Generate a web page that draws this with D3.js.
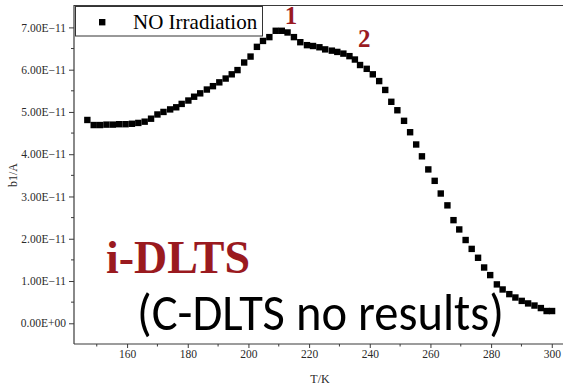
<!DOCTYPE html>
<html>
<head>
<meta charset="utf-8">
<script src="https://cdn.jsdelivr.net/npm/d3@7"></script>
<style>
  html, body { margin: 0; padding: 0; background: #fff; }
  svg { display: block; }
</style>
</head>
<body>
<svg id="chart" width="563" height="386"></svg>
<script>
// Temperature (K) of each measurement
const temperature = [
  146.9, 149.0, 151.1, 153.2, 155.3, 157.4, 159.5, 161.6, 163.7, 165.8,
  167.9, 170.0, 172.0, 174.2, 176.2, 178.0, 180.2, 182.1, 184.1, 186.3,
  188.3, 190.4, 192.5, 194.5, 196.4, 198.6, 200.7, 202.8, 204.8, 206.9,
  209.0, 211.0, 212.9, 215.0, 217.1, 219.3, 221.3, 223.4, 225.3, 227.5,
  229.3, 231.3, 233.3, 235.1, 236.8, 239.0, 241.0, 243.1, 245.1, 247.1,
  249.1, 251.3, 253.3, 255.3, 257.2, 259.3, 261.4, 263.4, 265.6, 267.6,
  269.5, 271.6, 273.6, 275.7, 277.7, 279.7, 281.9, 283.8, 286.0, 288.0,
  290.1, 292.2, 294.3, 296.4, 298.3, 300.1
];
// b1 amplitude (units of 1e-11 A), no irradiation
const b1 = [
  4.81, 4.69, 4.69, 4.70, 4.70, 4.71, 4.71, 4.72, 4.74, 4.77,
  4.84, 4.94, 5.00, 5.06, 5.11, 5.19, 5.27, 5.36, 5.44, 5.53,
  5.61, 5.70, 5.79, 5.89, 5.99, 6.17, 6.31, 6.54, 6.68, 6.77,
  6.92, 6.92, 6.88, 6.77, 6.65, 6.58, 6.56, 6.53, 6.48, 6.45,
  6.42, 6.38, 6.32, 6.24, 6.11, 6.02, 5.89, 5.73, 5.52, 5.24,
  5.04, 4.79, 4.52, 4.23, 3.95, 3.64, 3.37, 3.07, 2.79, 2.44,
  2.22, 1.97, 1.76, 1.55, 1.32, 1.14, 0.92, 0.80, 0.69, 0.61,
  0.53, 0.47, 0.42, 0.36, 0.29, 0.29
];
const points = temperature.map((t, i) => ({ t, v: b1[i] * 1e-11 }));

const yTicks = [0, 1e-11, 2e-11, 3e-11, 4e-11, 5e-11, 6e-11, 7e-11];
const yTickLabels = ["0.00E+00", "1.00E\u221211", "2.00E\u221211", "3.00E\u221211",
                     "4.00E\u221211", "5.00E\u221211", "6.00E\u221211", "7.00E\u221211"];
const yMinorTicks = [0.5e-11, 1.5e-11, 2.5e-11, 3.5e-11, 4.5e-11, 5.5e-11, 6.5e-11];
const xTicks = [160, 180, 200, 220, 240, 260, 280, 300];
const xMinorTicks = [150, 170, 190, 210, 230, 250, 270, 290];

const seriesName = "NO Irradiation";
const xTitle = "T/K";
const yTitle = "b1/A";
const peakLabels = [{ text: "1", t: 214.0, v: 7.07e-11 }, { text: "2", t: 238.2, v: 6.54e-11 }];

const svg = d3.select("#chart");
const plotLeft = 74, plotRight = 563, plotTop = 5, plotBottom = 344;

const x = d3.scaleLinear().domain([142.5, 303.7]).range([plotLeft, plotRight]);
const y = d3.scaleLinear().domain([-0.49e-11, 7.53e-11]).range([plotBottom, plotTop]);

const axisColor = "#3a3a3a";
const serif = "'Liberation Serif', 'Times New Roman', serif";

// frame: top border
svg.append("line")
  .attr("x1", plotLeft).attr("x2", plotRight).attr("y1", plotTop + 0.5).attr("y2", plotTop + 0.5)
  .attr("stroke", axisColor).attr("stroke-width", 1.2);

// y axis
const yAxis = svg.append("g").attr("transform", `translate(${plotLeft},0)`)
  .call(d3.axisLeft(y).tickValues(yTicks).tickSize(5).tickSizeOuter(0)
    .tickFormat((d, i) => yTickLabels[i]).tickPadding(3));
yAxis.append("g").selectAll("line").data(yMinorTicks).join("line")
  .attr("x1", -3).attr("x2", 0).attr("y1", d => y(d)).attr("y2", d => y(d))
  .attr("stroke", axisColor);

// x axis
const xAxis = svg.append("g").attr("transform", `translate(0,${plotBottom})`)
  .call(d3.axisBottom(x).tickValues(xTicks).tickSize(4).tickSizeOuter(0).tickPadding(2));
xAxis.append("g").selectAll("line").data(xMinorTicks).join("line")
  .attr("x1", d => x(d)).attr("x2", d => x(d)).attr("y1", 0).attr("y2", 2.5)
  .attr("stroke", axisColor);

[yAxis, xAxis].forEach(g => {
  g.select(".domain").attr("stroke", axisColor).attr("stroke-width", 1.2);
  g.selectAll(".tick line").attr("stroke", axisColor);
  g.selectAll(".tick text").attr("fill", "#2a2a2a")
    .attr("font-family", serif).attr("font-size", 11.5);
});
yAxis.select(".domain").attr("d", `M0,${plotBottom}V${plotTop}`);
xAxis.select(".domain").attr("d", `M${plotLeft},0H${plotRight}`);

// axis titles
svg.append("text").attr("x", 320).attr("y", 383).attr("text-anchor", "middle")
  .attr("font-family", serif).attr("font-size", 12).attr("fill", "#2a2a2a").text(xTitle);
svg.append("text").attr("transform", "translate(17,175) rotate(-90)").attr("text-anchor", "middle")
  .attr("font-family", serif).attr("font-size", 12).attr("fill", "#2a2a2a").text(yTitle);

// data markers
const size = 6.4;
svg.append("g").selectAll("rect").data(points).join("rect")
  .attr("x", d => x(d.t) - size / 2).attr("y", d => y(d.v) - size / 2)
  .attr("width", size).attr("height", size).attr("fill", "#000");

// legend
const legend = svg.append("g");
legend.append("rect").attr("x", 75.5).attr("y", 6.5).attr("width", 187).attr("height", 29.5)
  .attr("fill", "#fff").attr("stroke", "#333").attr("stroke-width", 1);
legend.append("rect").attr("x", 99).attr("y", 19).attr("width", 6.4).attr("height", 6.4).attr("fill", "#000");
legend.append("text").attr("x", 133).attr("y", 28.5)
  .attr("font-family", serif).attr("font-size", 21).attr("fill", "#000").text(seriesName);

// peak labels
const darkRed = "#9a1a1f";
svg.append("g").selectAll("text").data(peakLabels).join("text")
  .attr("x", d => x(d.t)).attr("y", d => y(d.v)).attr("text-anchor", "middle")
  .attr("font-family", serif).attr("font-weight", "bold").attr("font-size", 25)
  .attr("fill", darkRed).text(d => d.text);

// annotation
svg.append("text").attr("x", 106).attr("y", 273)
  .attr("font-family", serif).attr("font-weight", "bold").attr("font-size", 46)
  .attr("fill", darkRed).text("i-DLTS");
svg.append("text").attr("x", 137).attr("y", 330)
  .attr("font-family", "Carlito, Lato, 'Open Sans', sans-serif").attr("font-size", 52)
  .attr("font-weight", 300)
  .attr("textLength", 367).attr("lengthAdjust", "spacingAndGlyphs")
  .attr("fill", "#000").text("(C-DLTS no results)");
</script>
</body>
</html>
